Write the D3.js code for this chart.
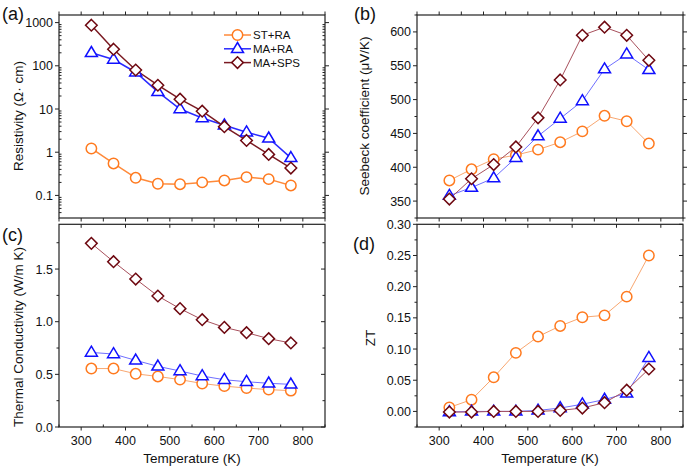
<!DOCTYPE html>
<html>
<head>
<meta charset="utf-8">
<script src="https://cdn.jsdelivr.net/npm/d3@7"></script>
<style>
  html, body { margin: 0; padding: 0; background: #fff; }
  svg { display: block; }
  text { font-family: "Liberation Sans", Arial, sans-serif; fill: #111; }
</style>
</head>
<body>
<svg id="chart" width="687" height="468"></svg>
<script>
// ---------------- data ----------------
const temps = [323, 373, 423, 473, 523, 573, 623, 673, 723, 773];
const seriesNames = ["ST+RA", "MA+RA", "MA+SPS"];
const xTickLabels = [300, 400, 500, 600, 700, 800];

// (a) resistivity (Ohm cm)
const resST   = [1.22, 0.55, 0.256, 0.186, 0.182, 0.20, 0.222, 0.265, 0.238, 0.17];
const resMARA = [200, 140, 71, 25, 10, 6.2, 4.2, 2.9, 2.1, 0.74];
const resSPS  = [870, 242, 80, 35.5, 16.9, 8.9, 3.9, 1.87, 0.89, 0.43];
const resTicks = [0.1, 1, 10, 100, 1000];

// (b) Seebeck coefficient (uV/K)
const seeST   = [380.5, 397, 412, 418, 426, 437, 453, 476, 468, 435];
const seeMARA = [358, 370, 384, 414, 446, 472, 498, 545, 567, 544];
const seeSPS  = [353, 383, 404, 430, 473, 529, 595, 607, 595, 558];
const seeTicks = [350, 400, 450, 500, 550, 600];

// (c) thermal conductivity (W/m K)
const kapST   = [0.555, 0.555, 0.505, 0.48, 0.45, 0.413, 0.388, 0.37, 0.355, 0.345];
const kapMARA = [0.708, 0.693, 0.633, 0.576, 0.532, 0.484, 0.449, 0.430, 0.415, 0.405];
const kapSPS  = [1.744, 1.570, 1.405, 1.244, 1.124, 1.019, 0.946, 0.896, 0.839, 0.798];
const kapTicks = [0.0, 0.5, 1.0, 1.5];

// (d) ZT
const ztST   = [0.0064, 0.0188, 0.0547, 0.0939, 0.120, 0.137, 0.151, 0.154, 0.184, 0.250];
const ztMARA = [-0.001, 0.000, 0.000, 0.000, 0.0016, 0.0054, 0.0115, 0.019, 0.029, 0.086];
const ztSPS  = [-0.001, -0.001, 0.000, 0.000, 0.000, 0.0016, 0.0054, 0.014, 0.034, 0.068];
const ztTicks = [0.00, 0.05, 0.10, 0.15, 0.20, 0.25, 0.30];

// ---------------- style ----------------
const markerColor = ["#ff7a1f", "#1010ff", "#6e0810"];
const lineColorA  = ["#ff8a3a", "#2a2aff", "#7a1a22"];
const lineColorB  = ["#f8a771", "#6f6fff", "#a8505c"];
const markerType  = ["circle", "triangle", "diamond"];

const svg = d3.select("#chart");

function marker(g, type, x, y, color) {
  if (type === "circle") {
    g.append("circle").attr("cx", x).attr("cy", y).attr("r", 5.2)
      .attr("fill", "#fff").attr("stroke", color).attr("stroke-width", 1.5);
  } else if (type === "triangle") {
    const p = [[x, y - 6.3], [x + 6, y + 3.7], [x - 6, y + 3.7]];
    g.append("polygon").attr("points", p.map(d => d.join(",")).join(" "))
      .attr("fill", "#fff").attr("stroke", color).attr("stroke-width", 1.5)
      .attr("stroke-linejoin", "miter");
  } else {
    const r = 5.8;
    const p = [[x, y - r], [x + r, y], [x, y + r], [x - r, y]];
    g.append("polygon").attr("points", p.map(d => d.join(",")).join(" "))
      .attr("fill", "#fff").attr("stroke", color).attr("stroke-width", 1.5);
  }
}

// tick drawer: side, values, scale, length, dir (+1 outward, -1 inward)
function ticks(g, side, vals, scale, len, dir, box) {
  vals.forEach(v => {
    const p = scale(v);
    let x1, y1, x2, y2;
    if (side === "bottom") { x1 = x2 = p; y1 = box.b; y2 = box.b + dir * len; }
    if (side === "top")    { x1 = x2 = p; y1 = box.t; y2 = box.t - dir * len; }
    if (side === "left")   { y1 = y2 = p; x1 = box.l; x2 = box.l - dir * len; }
    if (side === "right")  { y1 = y2 = p; x1 = box.r; x2 = box.r + dir * len; }
    g.append("line").attr("x1", x1).attr("y1", y1).attr("x2", x2).attr("y2", y2)
      .attr("stroke", "#222").attr("stroke-width", 1);
  });
}

function panel(cfg) {
  const box = cfg.box;
  const g = svg.append("g");
  const x = d3.scaleLinear().domain([250, 850]).range([box.l, box.r]);
  const y = (cfg.log ? d3.scaleLog() : d3.scaleLinear()).domain(cfg.yDomain).range([box.b, box.t]);

  // data
  const series = cfg.series;
  const line = d3.line().x((d, i) => x(temps[i])).y(d => y(d));
  series.forEach((vals, s) => {
    g.append("path").attr("d", line(vals)).attr("fill", "none")
      .attr("stroke", cfg.lineColors[s]).attr("stroke-width", cfg.lineWidth);
  });
  series.forEach((vals, s) => {
    vals.forEach((v, i) => marker(g, markerType[s], x(temps[i]), y(v), markerColor[s]));
  });

  // frame
  g.append("rect").attr("x", box.l).attr("y", box.t)
    .attr("width", box.r - box.l).attr("height", box.b - box.t)
    .attr("fill", "none").attr("stroke", "#222").attr("stroke-width", 1.2);

  const x100 = d3.range(300, 801, 100);
  const x50 = d3.range(250, 851, 50);
  const x50only = x50.filter(v => v % 100 !== 0);

  cfg.tickSpec(g, x, y, box, x100, x50, x50only);

  // y tick labels
  cfg.yTicks.forEach(v => {
    g.append("text").attr("x", box.l - 6).attr("y", y(v)).attr("dy", "0.36em")
      .attr("text-anchor", "end").attr("font-size", 12.5).text(cfg.yFmt(v));
  });
  // x tick labels
  if (cfg.xLabels) {
    xTickLabels.forEach(v => {
      g.append("text").attr("x", x(v)).attr("y", box.b + 18)
        .attr("text-anchor", "middle").attr("font-size", 12.5).text(v);
    });
    g.append("text").attr("x", (box.l + box.r) / 2).attr("y", box.b + 35.5)
      .attr("text-anchor", "middle").attr("font-size", 13.5).text("Temperature (K)");
  }
  // y title
  g.append("text")
    .attr("transform", `translate(${cfg.yTitleX},${cfg.yTitleY}) rotate(-90)`)
    .attr("text-anchor", "middle").attr("font-size", 13.5).text(cfg.yTitle);
  // panel letter
  g.append("text").attr("x", cfg.letterPos[0]).attr("y", cfg.letterPos[1])
    .attr("font-size", 18).text(cfg.letter);
  return { g, x, y };
}

// ---- (a) ----
const boxA = { l: 59, r: 325, t: 15, b: 218 };
const minorLog = [];
for (let e = -2; e <= 3; e++) for (let m = 2; m <= 9; m++) {
  const v = m * Math.pow(10, e);
  if (v > 0.03 && v < 1500) minorLog.push(v);
}
const pa = panel({
  box: boxA, log: true, yDomain: [0.03, 1500],
  series: [resST, resMARA, resSPS], lineColors: lineColorA, lineWidth: 1.5,
  yTicks: resTicks, yFmt: v => String(v),
  yTitle: "Resistivity (Ω· cm)", yTitleX: 23, yTitleY: 116,
  letter: "(a)", letterPos: [2, 20], xLabels: false,
  tickSpec: (g, x, y, box, x100, x50) => {
    ticks(g, "bottom", x50, x, 3.5, 1, box);
    ticks(g, "top", x50, x, 3.5, 1, box);
    ticks(g, "left", resTicks, y, 4, 1, box);
    ticks(g, "right", resTicks, y, 4, 1, box);
    ticks(g, "left", minorLog, y, 2.5, -1, box);
    ticks(g, "right", minorLog, y, 2.5, -1, box);
  }
});

// legend
const leg = pa.g.append("g");
seriesNames.forEach((n, i) => {
  const yy = 35 + i * 13.8;
  leg.append("line").attr("x1", 224).attr("x2", 251).attr("y1", yy).attr("y2", yy)
    .attr("stroke", lineColorA[i]).attr("stroke-width", 1.5);
  marker(leg, markerType[i], 237.5, yy, markerColor[i]);
  leg.append("text").attr("x", 253).attr("y", yy).attr("dy", "0.36em")
    .attr("font-size", 11.5).text(n);
});

// ---- (b) ----
const boxB = { l: 417, r: 683, t: 15, b: 218 };
panel({
  box: boxB, log: false, yDomain: [325, 625],
  series: [seeST, seeMARA, seeSPS], lineColors: lineColorB, lineWidth: 1,
  yTicks: seeTicks, yFmt: v => String(v),
  yTitle: "Seebeck coefficient (μV/K)", yTitleX: 369, yTitleY: 116,
  letter: "(b)", letterPos: [354, 20], xLabels: false,
  tickSpec: (g, x, y, box, x100, x50) => {
    const minor = d3.range(325, 626, 50);
    ticks(g, "bottom", x50, x, 3.5, 1, box);
    ticks(g, "top", x50, x, 3.5, 1, box);
    ticks(g, "left", seeTicks, y, 4, 1, box);
    ticks(g, "right", seeTicks, y, 4, 1, box);
    ticks(g, "left", minor, y, 2.5, 1, box);
    ticks(g, "right", minor, y, 2.5, 1, box);
  }
});

// ---- (c) ----
const boxC = { l: 59, r: 325, t: 224.3, b: 427 };
panel({
  box: boxC, log: false, yDomain: [0, 1.925],
  series: [kapST, kapMARA, kapSPS], lineColors: lineColorB, lineWidth: 1,
  yTicks: kapTicks, yFmt: d3.format(".1f"),
  yTitle: "Thermal Conductivity (W/m K)", yTitleX: 23, yTitleY: 337,
  letter: "(c)", letterPos: [2, 241], xLabels: true,
  tickSpec: (g, x, y, box, x100, x50, x50only) => {
    const minor = [0.25, 0.75, 1.25, 1.75];
    ticks(g, "top", x100, x, 3.5, -1, box);
    ticks(g, "bottom", x100, x, 3.5, 1, box);
    ticks(g, "bottom", x50only, x, 2.5, -1, box);
    ticks(g, "left", kapTicks, y, 4, 1, box);
    ticks(g, "left", minor, y, 2.5, 1, box);
    ticks(g, "right", kapTicks, y, 4, -1, box);
    ticks(g, "right", minor, y, 2.5, -1, box);
  }
});

// ---- (d) ----
const boxD = { l: 417, r: 683, t: 224.3, b: 427 };
panel({
  box: boxD, log: false, yDomain: [-0.025, 0.30],
  series: [ztST, ztMARA, ztSPS], lineColors: lineColorB, lineWidth: 1,
  yTicks: ztTicks, yFmt: d3.format(".2f"),
  yTitle: "ZT", yTitleX: 375, yTitleY: 338,
  letter: "(d)", letterPos: [353, 250], xLabels: true,
  tickSpec: (g, x, y, box, x100, x50, x50only) => {
    const minor = d3.range(-0.025, 0.3, 0.05);
    ticks(g, "top", x100, x, 3.5, -1, box);
    ticks(g, "bottom", x100, x, 3.5, 1, box);
    ticks(g, "bottom", x50only, x, 2.5, -1, box);
    ticks(g, "left", ztTicks, y, 4, 1, box);
    ticks(g, "left", minor, y, 2.5, 1, box);
    ticks(g, "right", ztTicks, y, 4, -1, box);
    ticks(g, "right", minor, y, 2.5, -1, box);
  }
});
</script>
</body>
</html>
